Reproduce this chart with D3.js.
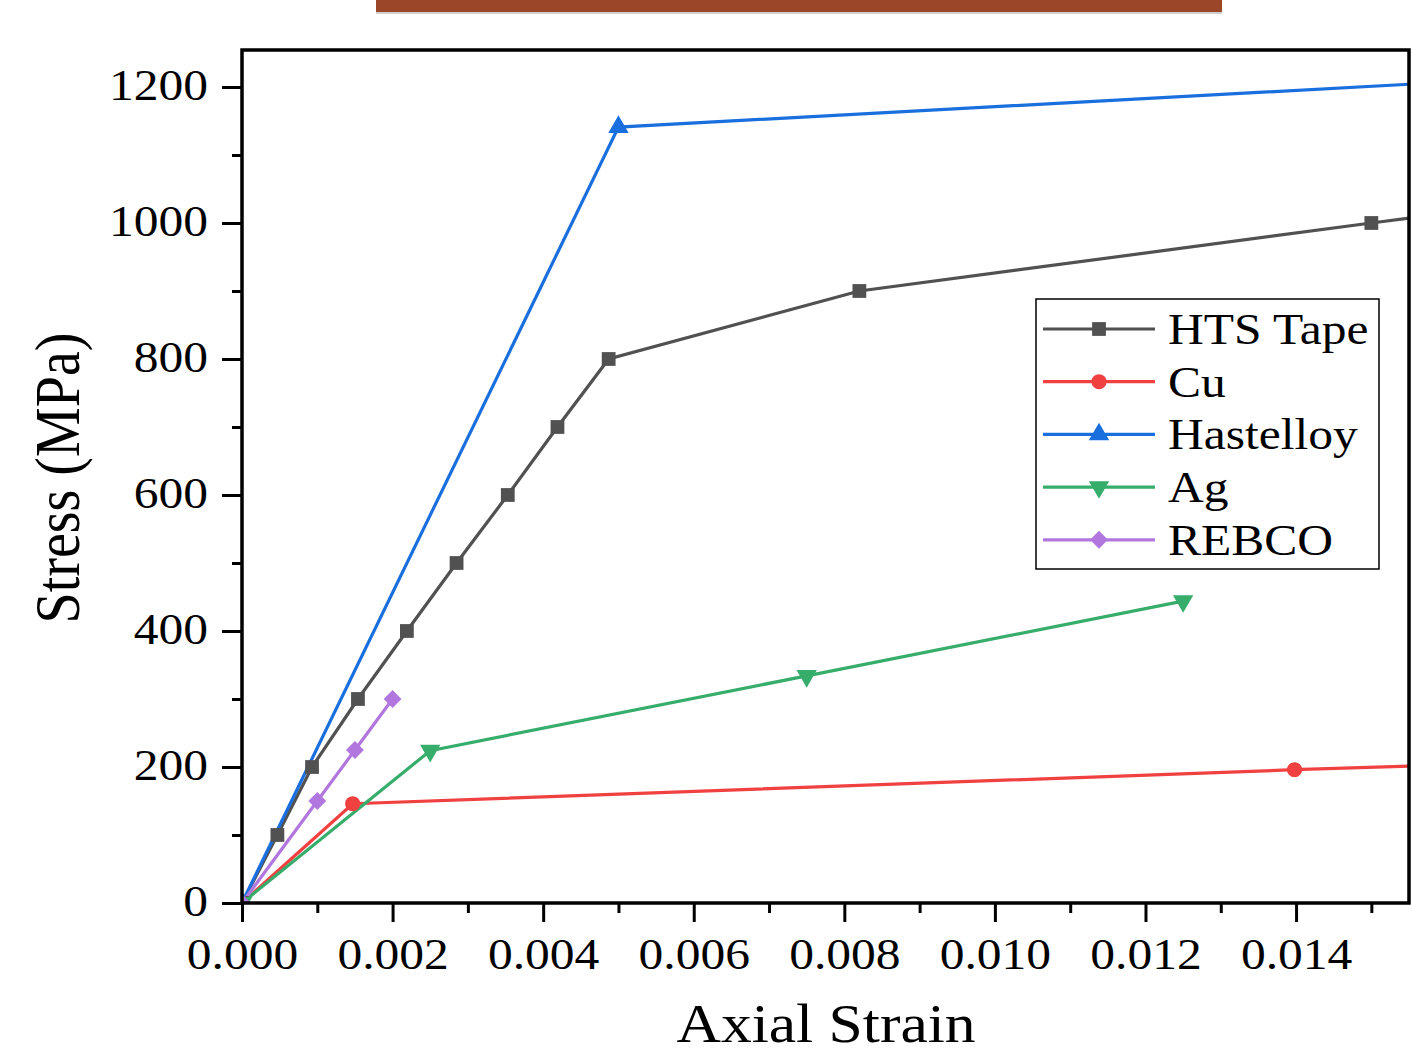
<!DOCTYPE html>
<html lang="en">
<head>
    <meta charset="UTF-8">
    <title>Stress vs Axial Strain</title>
    <script src="https://d3js.org/d3.v7.min.js"></script>
    <style>
        body { margin: 0; background: white; }
        text { font-family: "Liberation Serif", "Times New Roman", serif; fill: black; }
    </style>
</head>
<body>
<script>
    const width  = 1412;
    const height = 1055;

    // data (strain, MPa)
    const htsStrain   = [0, 0.00047, 0.00093, 0.00154, 0.00219, 0.00285, 0.00353, 0.00419, 0.00487, 0.0082, 0.0150, 0.0160];
    const htsStress   = [0, 100, 200, 300, 400, 500, 600, 700, 800, 900, 1000, 1014];
    const cuStrain    = [0, 0.00147, 0.01398, 0.0160];
    const cuStress    = [0, 146, 196, 203];
    const hastStrain  = [0, 0.0050, 0.0160];
    const hastStress  = [0, 1141, 1207];
    const agStrain    = [0, 0.0025, 0.0075, 0.0125];
    const agStress    = [0, 224, 334, 444];
    const rebcoStrain = [0, 0.001, 0.0015, 0.002];
    const rebcoStress = [0, 150, 225, 300];

    const xTicks = [0, 0.002, 0.004, 0.006, 0.008, 0.010, 0.012, 0.014];
    const yTicks = [0, 200, 400, 600, 800, 1000, 1200];

    const series = [
        {name: "HTS Tape",  x: htsStrain,   y: htsStress,   color: "#515151", sym: d3.symbolSquare,   size: 190, rot: 0},
        {name: "Cu",        x: cuStrain,    y: cuStress,    color: "#F14040", sym: d3.symbolCircle,   size: 180, rot: 0},
        {name: "Hastelloy", x: hastStrain,  y: hastStress,  color: "#1A6FDF", sym: d3.symbolTriangle, size: 180, rot: 0},
        {name: "Ag",        x: agStrain,    y: agStress,    color: "#37AD6B", sym: d3.symbolTriangle, size: 180, rot: 180},
        {name: "REBCO",     x: rebcoStrain, y: rebcoStress, color: "#B177DE", sym: d3.symbolSquare,   size: 160, rot: 45}
    ];

    const pLeft = 242, pRight = 1409, pTop = 50, pBottom = 903;
    const stretch = 1.1;

    const x = d3.scaleLinear().domain([0, 0.0155]).range([pLeft, pRight]);
    const y = d3.scaleLinear().domain([0, 1254.4]).range([pBottom, pTop]);

    const svg = d3.select("body").append("svg").attr("width", width).attr("height", height);

    // brown bar at the top (cut-off figure header)
    svg.append("rect").attr("x", 376).attr("y", -4).attr("width", 846).attr("height", 16)
       .attr("fill", "#9B4628");
    svg.append("rect").attr("x", 376).attr("y", 12).attr("width", 846).attr("height", 2)
       .attr("fill", "#cfcfcf");

    svg.append("clipPath").attr("id", "plotClip")
       .append("rect").attr("x", pLeft).attr("y", pTop).attr("width", pRight - pLeft).attr("height", pBottom - pTop);

    // axes
    const xAxis = d3.axisBottom(x).tickValues(xTicks).tickFormat(d3.format(".3f")).tickSize(19).tickPadding(15);
    const yAxis = d3.axisLeft(y).tickValues(yTicks).tickFormat(d3.format("d")).tickSize(20).tickPadding(14);
    const xMinor = d3.axisBottom(x).tickValues(d3.range(0.001, 0.0155, 0.002)).tickFormat("").tickSize(10);
    const yMinor = d3.axisLeft(y).tickValues(d3.range(100, 1254, 200)).tickFormat("").tickSize(10);

    const gx = svg.append("g").attr("transform", `translate(0,${pBottom})`).call(xAxis);
    svg.append("g").attr("transform", `translate(0,${pBottom})`).call(xMinor);
    const gy = svg.append("g").attr("transform", `translate(${pLeft},0)`).call(yAxis);
    svg.append("g").attr("transform", `translate(${pLeft},0)`).call(yMinor);

    svg.selectAll(".domain").remove();
    svg.selectAll(".tick line").attr("stroke", "black").attr("stroke-width", 3);

    gx.selectAll(".tick text")
      .attr("font-size", 45).attr("font-family", "Liberation Serif").attr("fill", "black")
      .attr("dy", "0.71em")
      .attr("transform", function() {
          const yy = +d3.select(this).attr("y");
          return `translate(0,${yy}) scale(${stretch},1) translate(0,${-yy})`;
      });
    gy.selectAll(".tick text")
      .attr("font-size", 45).attr("font-family", "Liberation Serif").attr("fill", "black")
      .attr("dy", "0.28em")
      .attr("transform", function() {
          const xx = +d3.select(this).attr("x");
          return `translate(${xx},0) scale(${stretch},1) translate(${-xx},0)`;
      });

    // series
    const plot = svg.append("g").attr("clip-path", "url(#plotClip)");
    const line = d3.line().x(d => x(d[0])).y(d => y(d[1]));

    series.forEach(s => {
        const pts = s.x.map((v, i) => [v, s.y[i]]);
        plot.append("path").datum(pts)
            .attr("d", line)
            .attr("fill", "none")
            .attr("stroke", s.color)
            .attr("stroke-width", 3.2);
    });
    series.forEach(s => {
        const pts = s.x.map((v, i) => [v, s.y[i]]);
        plot.selectAll(null).data(pts).join("path")
            .attr("d", d3.symbol().type(s.sym).size(s.size))
            .attr("transform", d => `translate(${x(d[0])},${y(d[1])}) rotate(${s.rot})`)
            .attr("fill", s.color);
    });

    // frame
    svg.append("rect").attr("x", pLeft).attr("y", pTop).attr("width", pRight - pLeft).attr("height", pBottom - pTop)
       .attr("fill", "none").attr("stroke", "black").attr("stroke-width", 3.5);

    // axis titles
    svg.append("text")
       .attr("transform", `translate(826,1042) scale(1.14,1)`)
       .attr("text-anchor", "middle")
       .attr("font-size", 54)
       .text("Axial Strain");
    svg.append("text")
       .attr("transform", `translate(79,478) rotate(-90) scale(1,1.15)`)
       .attr("text-anchor", "middle")
       .attr("font-size", 56)
       .text("Stress (MPa)");

    // legend
    const legend = svg.append("g");
    legend.append("rect").attr("x", 1036).attr("y", 299).attr("width", 343).attr("height", 270)
          .attr("fill", "white").attr("stroke", "black").attr("stroke-width", 1.5);
    series.forEach((s, i) => {
        const ly = 329 + i * 52.7;
        legend.append("line").attr("x1", 1043).attr("x2", 1155).attr("y1", ly).attr("y2", ly)
              .attr("stroke", s.color).attr("stroke-width", 3.2);
        legend.append("path")
              .attr("d", d3.symbol().type(s.sym).size(s.size))
              .attr("transform", `translate(1099,${ly}) rotate(${s.rot})`)
              .attr("fill", s.color);
        legend.append("text")
              .attr("transform", `translate(1168,${ly + 15}) scale(${stretch},1)`)
              .attr("font-size", 45)
              .text(s.name);
    });
</script>
</body>
</html>
